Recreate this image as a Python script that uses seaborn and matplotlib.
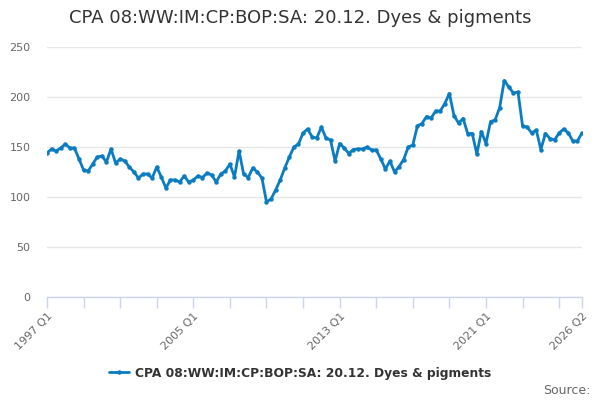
import matplotlib
matplotlib.use("Agg")
import matplotlib.pyplot as plt
import seaborn as sns
import pandas as pd
import numpy as np

title = "CPA 08:WW:IM:CP:BOP:SA: 20.12. Dyes & pigments"
series_name = "CPA 08:WW:IM:CP:BOP:SA: 20.12. Dyes & pigments"

start_year = 1997
values = [
    144, 148, 146, 149, 153, 149, 149, 138, 127, 126,
    133, 140, 141, 135, 148, 134, 138, 136, 130, 125,
    119, 123, 123, 119, 130, 120, 109, 117, 117, 115,
    121, 115, 117, 121, 119.5, 124, 122, 115, 123, 126,
    133, 120, 146, 123, 119.5, 129, 125, 119, 95, 98,
    107, 117, 129, 140, 150, 153, 164, 168, 160, 159,
    170, 159, 157, 136, 153.5, 149, 143.5, 147.5, 148, 148,
    150, 147, 147, 138, 128, 136, 125, 130.5, 137.5, 150,
    152, 171, 173.5, 180.5, 179, 186, 186, 193.5, 203.5, 181.5,
    174, 178.5, 163.5, 163.5, 143, 165.5, 153.5, 175.5, 177, 189.5,
    216.5, 210, 204, 205, 171, 170, 164, 167, 147.5, 163.5,
    158.5, 157, 164, 168, 164, 156, 156, 164,
]
periods = [f"{start_year + i // 4} Q{i % 4 + 1}" for i in range(len(values))]
label_periods = ["1997 Q1", "2005 Q1", "2013 Q1", "2021 Q1", "2026 Q2"]
y_ticks = [0, 50, 100, 150, 200, 250]

df = pd.DataFrame({"idx": np.arange(len(values)), "value": values, "period": periods})

sns.set_theme(style="white")
plt.rcParams["font.family"] = ["DejaVu Sans"]

fig = plt.figure(figsize=(6, 4), dpi=100)
ax = fig.add_axes([47 / 600, 1 - 297 / 400, 535 / 600, 250 / 400])

color = "#0a7cc1"
sns.lineplot(data=df, x="idx", y="value", ax=ax, color=color, linewidth=2,
             marker="o", markersize=3.2, markeredgewidth=0, label=series_name,
             legend=False)

n = len(values)
ax.set_xlim(0, n - 1)
ax.set_ylim(0, 250)
ax.set_yticks(y_ticks)
ax.set_yticklabels([str(v) for v in y_ticks], color="#666666", fontsize=8)
ax.grid(axis="y", color="#e6e6e6", linewidth=1)
ax.set_axisbelow(True)

minor_pos = list(range(0, n, 8)) + [n - 1]
label_pos = [periods.index(p) for p in label_periods]
ax.set_xticks(label_pos)
ax.set_xticklabels(label_periods, rotation=45, ha="right", va="top",
                   rotation_mode="anchor", color="#666666", fontsize=8)
ax.set_xticks(minor_pos, minor=True)
ax.tick_params(axis="x", which="both", direction="out", length=8, width=1,
               color="#ccd6eb", pad=2, bottom=True)
ax.tick_params(axis="y", length=0, pad=12)

for s in ["top", "right", "left"]:
    ax.spines[s].set_visible(False)
ax.spines["bottom"].set_color("#ccd6eb")
ax.spines["bottom"].set_linewidth(1)
ax.set_xlabel("")
ax.set_ylabel("")

fig.text(0.5, 1 - 18 / 400, title, ha="center", va="center", fontsize=13, color="#333333")

handles = ax.get_lines()[:1]
leg = fig.legend(handles, [series_name], loc="center", bbox_to_anchor=(0.5, 1 - 373 / 400),
                 frameon=False, handlelength=1.6, handletextpad=0.5,
                 prop={"weight": "bold", "size": 8.8})
for t in leg.get_texts():
    t.set_color("#333333")

fig.text(590 / 600, 1 - 390 / 400, "Source:", ha="right", va="center", fontsize=9, color="#666666")

fig.savefig("out.png", dpi=100, facecolor="white")
